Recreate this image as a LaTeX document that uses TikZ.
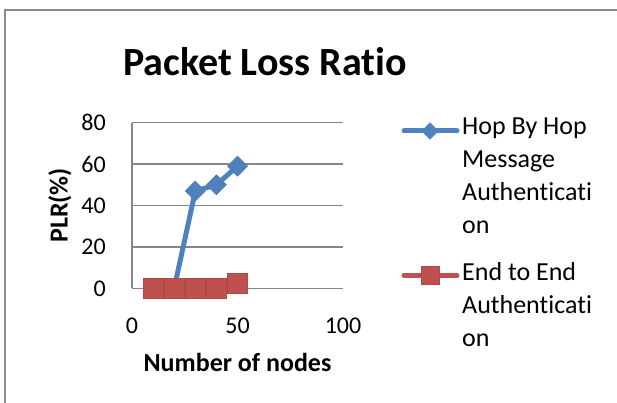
\documentclass[tikz,border=0pt]{standalone}
\usepackage{fontspec}
\setmainfont{Carlito}[Ligatures=NoCommon]
\usetikzlibrary{shapes.geometric}
\definecolor{serA}{HTML}{4F81BD}
\definecolor{serB}{HTML}{C0504D}
\definecolor{gridc}{HTML}{868686}
\definecolor{framec}{HTML}{8C8C8C}
\tikzset{
  lbl/.style={font=\fontsize{24}{28}\selectfont, inner sep=0pt},
  axtitle/.style={font=\fontsize{26}{30}\selectfont\bfseries, inner sep=0pt},
  gridl/.style={draw=gridc, line width=1.2pt},
  lineA/.style={draw=serA, line width=5pt, line join=round, line cap=round},
  lineB/.style={draw=serB, line width=5pt, line join=round, line cap=round},
  markA/.style={diamond, fill=serA, draw=serA, minimum size=20pt, inner sep=0pt},
  markB/.style={rectangle, fill=serB, draw=serB!90!black, line width=0.4pt, minimum size=20pt, inner sep=0pt},
  legmarkA/.style={markA, minimum size=17pt},
  legmarkB/.style={markB, minimum size=18pt},
  legtext/.style={font=\fontsize{26}{33}\selectfont, inner sep=0pt, align=left, anchor=north west}
}
\begin{document}
\begin{tikzpicture}[x=1pt,y=-1pt]
\useasboundingbox (0,0) rectangle (617,403);
\fill[white] (0,0) rectangle (617,403);
\draw[framec, line width=1.5pt] (5,403) -- (5,10) -- (617,10);
% title
\node[font=\fontsize{40}{46}\selectfont\bfseries, inner sep=0pt] (title) at (265,62) {Packet Loss Ratio};
\begin{scope}[shift={(132,288.3)}, x=2.11pt, y=2.07pt]
  \foreach \v in {0,20,40,60,80} {
    \draw[gridl] (0,\v) -- (100,\v);
    \node[lbl, anchor=east] (yt\v) at ([xshift=-26pt]0,\v) {\v};
  }
  \draw[gridl] (0,0) -- (0,80);
  \foreach \v in {0,50,100} {
    \node[lbl] (xt\v) at ([yshift=-37pt]\v,0) {\v};
  }
  \node[axtitle] (xtitle) at ([yshift=-74pt]50,0) {Number of nodes};
  \node[axtitle, rotate=90] (ytitle) at ([xshift=-72pt]0,40) {PLR(\%)};
  % series A
  \coordinate (a1) at (10,0);
  \coordinate (a2) at (20,0);
  \node[markA] (a3) at (30,47) {};
  \node[markA] (a4) at (40,50) {};
  \node[markA] (a5) at (50,59) {};
  \draw[lineA] (a1) -- (a2) -- (a3.center) -- (a4.center) -- (a5.center);
  \node[markA] at (a3) {};
  \node[markA] at (a4) {};
  \node[markA] at (a5) {};
  % series B
  \node[markB] (b1) at (10,0) {};
  \node[markB] (b2) at (20,0) {};
  \node[markB] (b3) at (30,0) {};
  \node[markB] (b4) at (40,0) {};
  \node[markB] (b5) at (50,2.7) {};
\end{scope}
% legend
\coordinate (la1) at (404,131);
\coordinate (la2) at (457,131);
\draw[lineA] (la1) -- (la2);
\node[legmarkA] (lma) at (430,131) {};
\node[legtext] (lta) at (462,118) {Hop By Hop\\Message\\Authenticati\\on};
\coordinate (lb1) at (404,275.5);
\coordinate (lb2) at (457,275.5);
\draw[lineB] (lb1) -- (lb2);
\node[legmarkB] (lmb) at (430,275.5) {};
\node[legtext] (ltb) at (462,262) {End to End\\Authenticati\\on};
\end{tikzpicture}
\end{document}
